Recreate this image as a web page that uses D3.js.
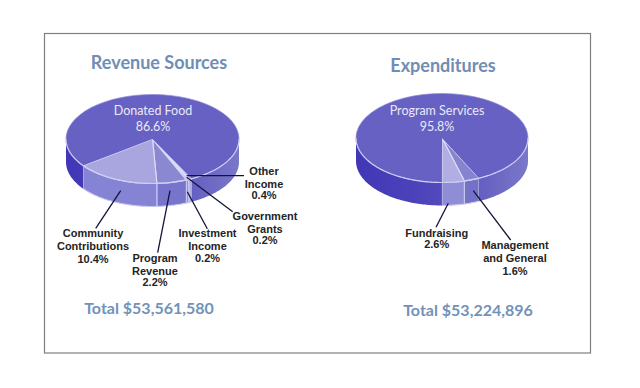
<!DOCTYPE html>
<html>
<head>
<meta charset="utf-8">
<style>
    html, body { margin: 0; padding: 0; background: #fff; }
    svg { display: block; }
    .title { font-family: Lato, sans-serif; font-weight: 700; fill: #6f8eb4; text-anchor: middle; }
    .total { font-family: Lato, sans-serif; font-weight: 700; fill: #7192b9; text-anchor: middle; }
    .inner { font-family: Lato, sans-serif; font-size: 12.5px; fill: #e9e9f8; text-anchor: middle; }
    .callout { font-family: 'Liberation Sans', sans-serif; font-weight: 700; font-size: 11px; fill: #242424; text-anchor: middle; }
    .leader { stroke: #14143a; stroke-width: 1.3; fill: none; }
</style>
</head>
<body>
<svg id="chart" width="640" height="388"></svg>
<script src="https://cdn.jsdelivr.net/npm/d3@7"></script>
<script>
// printed on the chart
const revenueNames = ['Other Income', 'Government Grants', 'Investment Income', 'Program Revenue', 'Community Contributions', 'Donated Food'];
const revenueValues = [0.4, 0.2, 0.2, 2.2, 10.4, 86.6];
const expenseNames = ['Management and General', 'Fundraising', 'Program Services'];
const expenseValues = [1.6, 2.6, 95.8];

// the slices in the picture are not to scale, so these are the shares as drawn
const revenueDrawn = [0.4, 0.3, 0.4, 5.6, 15.6, 77.7];
const expenseDrawn = [2.9, 4.2, 92.9];

const revenueTotal = 'Total $53,561,580';
const expenseTotal = 'Total $53,224,896';

const svg = d3.select('#chart');
const deg = Math.PI / 180;

svg.append('rect')
    .attr('x', 44.5).attr('y', 33.5).attr('width', 546).attr('height', 319.5)
    .attr('fill', '#fff').attr('stroke', '#7d7d7d').attr('stroke-width', 1.2);

const defs = svg.append('defs');

function sideGradient(id, x0, x1) {
    const g = defs.append('linearGradient').attr('id', id)
        .attr('gradientUnits', 'userSpaceOnUse')
        .attr('x1', x0).attr('x2', x1).attr('y1', 0).attr('y2', 0);
    g.append('stop').attr('offset', '0%').attr('stop-color', '#4136b6');
    g.append('stop').attr('offset', '45%').attr('stop-color', '#4f47bb');
    g.append('stop').attr('offset', '100%').attr('stop-color', '#7a78c8');
}

function drawPie(opts) {
    const { cx, cy, rx, ry, depth, drawn, startDeg, topColours, sideColours, gradId } = opts;
    sideGradient(gradId, cx - rx, cx + rx);

    const slices = d3.pie().sort(null)
        .startAngle(startDeg * deg)
        .endAngle((startDeg + 360) * deg)(drawn);

    const g = svg.append('g');
    const px = a => cx + rx * Math.sin(a);
    const py = a => cy - ry * Math.cos(a);
    const line = d3.line();

    // wall segment between two angles, front half only
    function wall(a0, a1) {
        const ts = d3.range(a0, a1, 0.02).concat([a1]);
        const top = ts.map(a => [px(a), py(a)]);
        const bottom = ts.slice().reverse().map(a => [px(a), py(a) + depth]);
        return line(top.concat(bottom)) + 'Z';
    }

    const front = [[90 * deg, 270 * deg], [450 * deg, 630 * deg]];
    slices.forEach((s, i) => {
        front.forEach(([lo, hi]) => {
            const a0 = Math.max(s.startAngle, lo);
            const a1 = Math.min(s.endAngle, hi);
            if (a1 <= a0) return;
            const isMain = i === slices.length - 1;
            g.append('path')
                .attr('d', wall(a0, a1))
                .attr('fill', isMain ? `url(#${gradId})` : sideColours[i])
                .attr('stroke', isMain ? 'none' : '#c9c8ef')
                .attr('stroke-width', 1.1);
        });
    });

    // top face, d3.arc on the unit circle squashed to an ellipse
    const arc = d3.arc().innerRadius(0).outerRadius(rx);
    const top = g.append('g').attr('transform', `translate(${cx},${cy}) scale(1,${ry / rx})`);
    top.selectAll('path')
        .data(slices)
        .join('path')
        .attr('d', arc)
        .attr('fill', (d, i) => topColours[i])
        .attr('stroke', (d, i) => i === slices.length - 1 ? 'none' : '#dcdbf6')
        .attr('stroke-width', 1.2)
        .attr('vector-effect', 'non-scaling-stroke');

    // faint rim round the back, brighter along the front edge
    g.append('ellipse')
        .attr('cx', cx).attr('cy', cy).attr('rx', rx).attr('ry', ry)
        .attr('fill', 'none').attr('stroke', '#8f8cd8').attr('stroke-width', 0.7);
    const rim = d3.range(90 * deg, 270 * deg, 0.02).map(a => [px(a), py(a)]);
    g.append('path').attr('d', line(rim))
        .attr('fill', 'none').attr('stroke', '#cfcef2').attr('stroke-width', 1.2);
}

drawPie({
    cx: 152.5, cy: 139, rx: 86.5, ry: 44.5, depth: 23,
    drawn: revenueDrawn, startDeg: 153, gradId: 'sideA',
    topColours: ['#8f8cd4', '#8f8cd4', '#8f8cd4', '#8b88d2', '#a8a5df', '#6661c2'],
    sideColours: ['#8a88d4', '#8a88d4', '#8a88d4', '#7774cb', '#8583d4', '#6661c2']
});
drawPie({
    cx: 442, cy: 138, rx: 86, ry: 44.5, depth: 23,
    drawn: expenseDrawn, startDeg: 154.5, gradId: 'sideB',
    topColours: ['#8784cf', '#b0aee3', '#6661c2'],
    sideColours: ['#7472c8', '#8f8dd6', '#6661c2']
});

// titles and totals
const titles = [
    { text: 'Revenue Sources', x: 159, y: 69, size: 18 },
    { text: 'Expenditures', x: 443, y: 72, size: 18 }
];
svg.selectAll('.title').data(titles).join('text')
    .attr('class', 'title')
    .attr('x', d => d.x).attr('y', d => d.y)
    .style('font-size', d => d.size + 'px')
    .text(d => d.text);

const totals = [
    { text: revenueTotal, x: 149, y: 314 },
    { text: expenseTotal, x: 468, y: 316 }
];
svg.selectAll('.total').data(totals).join('text')
    .attr('class', 'total')
    .attr('x', d => d.x).attr('y', d => d.y)
    .style('font-size', '16px')
    .text(d => d.text);

const pct = v => v.toFixed(1) + '%';

// big slice labels sit on the pie
const inner = [
    { text: revenueNames[5], x: 153, y: 115 },
    { text: pct(revenueValues[5]), x: 153, y: 131 },
    { text: expenseNames[2], x: 437, y: 115 },
    { text: pct(expenseValues[2]), x: 437, y: 131 }
];
svg.selectAll('.inner').data(inner).join('text')
    .attr('class', 'inner')
    .attr('x', d => d.x).attr('y', d => d.y)
    .text(d => d.text);

// callouts: wrapped text lines + leader from the slice to the label
const callouts = [
    { lines: ['Other', 'Income', pct(revenueValues[0])], x: 264, ys: [175, 188, 199], from: [186.7, 175.7], to: [244, 175.7] },
    { lines: ['Government', 'Grants', pct(revenueValues[1])], x: 265, ys: [220, 233, 244], from: [186.7, 177.3], to: [232.7, 211.7] },
    { lines: ['Investment', 'Income', pct(revenueValues[2])], x: 207.5, ys: [237, 250, 262], from: [187.3, 191.7], to: [207.3, 228.7] },
    { lines: ['Program', 'Revenue', pct(revenueValues[3])], x: 155, ys: [262, 274.5, 286], from: [170, 190.7], to: [157.7, 252.7] },
    { lines: ['Community', 'Contributions', pct(revenueValues[4])], x: 93, ys: [237, 250, 262.5], from: [120.7, 190.7], to: [95.7, 228.3] },
    { lines: ['Management', 'and General', pct(expenseValues[0])], x: 515, ys: [249, 262, 275], from: [473.3, 190.7], to: [510.7, 240] },
    { lines: ['Fundraising', pct(expenseValues[1])], x: 436.7, ys: [237, 248], from: [448.3, 203.3], to: [436, 227.3] }
];

callouts.forEach(c => {
    svg.append('line').attr('class', 'leader')
        .attr('x1', c.from[0]).attr('y1', c.from[1])
        .attr('x2', c.to[0]).attr('y2', c.to[1]);
    c.lines.forEach((t, i) => {
        svg.append('text').attr('class', 'callout')
            .attr('x', c.x).attr('y', c.ys[i]).text(t);
    });
});
</script>
</body>
</html>
